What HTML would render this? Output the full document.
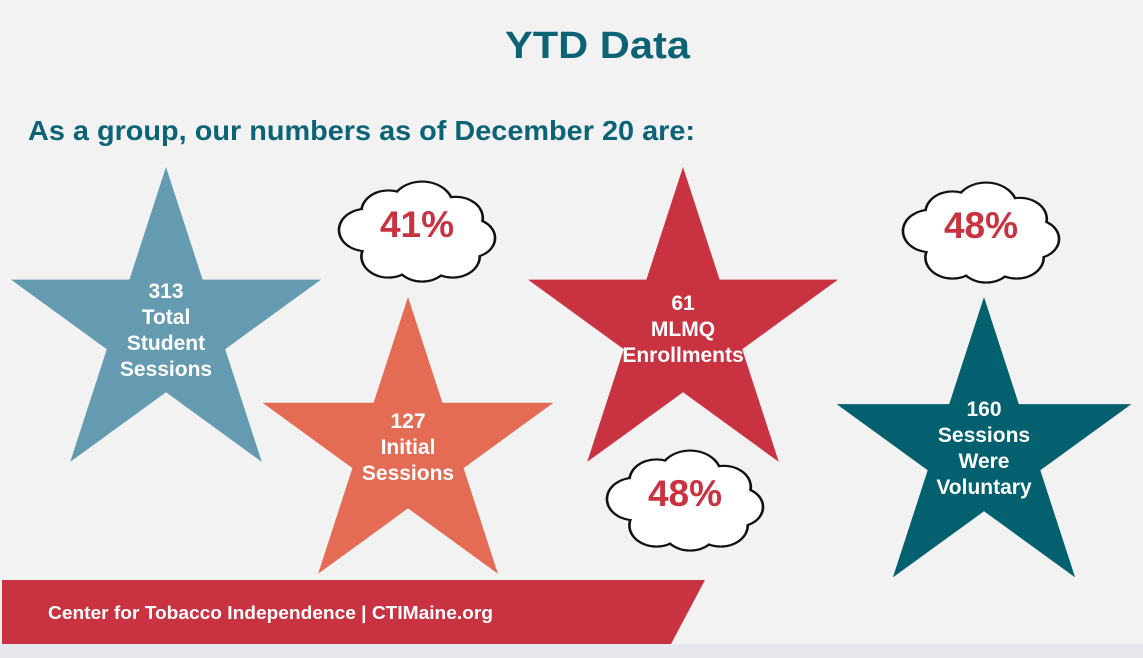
<!DOCTYPE html>
<html><head><meta charset="utf-8"><style>
html,body{margin:0;padding:0;width:1143px;height:658px;overflow:hidden;background:#f2f2f2;font-family:"Liberation Sans",sans-serif}
svg{position:absolute;left:0;top:0}
</style></head><body>
<svg id="s" width="1143" height="658" viewBox="0 0 1143 658">
<rect x="0" y="0" width="1143" height="658" fill="#f2f2f2"/>
<rect x="0" y="644" width="1143" height="14" fill="#e7e8ed"/>
<text x="505" y="58" textLength="185" lengthAdjust="spacingAndGlyphs" font-size="38" font-weight="bold" fill="#0b6375">YTD Data</text>
<text x="28" y="140" textLength="667" lengthAdjust="spacingAndGlyphs" font-size="28" font-weight="bold" fill="#0b6375">As a group, our numbers as of December 20 are:</text>
<g id="stars"></g>
<g id="clouds"></g>
<polygon points="2,580 705,580 671,644 2,644" fill="#c93341"/>
<text x="48" y="619" textLength="445" lengthAdjust="spacingAndGlyphs" font-size="18" font-weight="bold" fill="#fff">Center for Tobacco Independence |  CTIMaine.org</text>
</svg>
<script>
const NS='http://www.w3.org/2000/svg';
const starCx=[166,408,683,984], starCy=[330,450,330,452], starR=[163,153,163,155];
const starColor=['#649bb1','#e46c55','#c93341','#02606f'];
const starLines=[['313','Total','Student','Sessions'],['127','Initial','Sessions'],['61','MLMQ','Enrollments'],['160','Sessions','Were','Voluntary']];
const starTextY=[298,428,310,416];
const g=document.getElementById('stars');
for(let i=0;i<4;i++){
  const pts=[];
  for(let k=0;k<10;k++){const r=k%2?starR[i]*0.382:starR[i];const a=-Math.PI/2+k*Math.PI/5;pts.push((starCx[i]+r*Math.cos(a)).toFixed(1)+','+(starCy[i]+r*Math.sin(a)).toFixed(1));}
  const p=document.createElementNS(NS,'polygon');p.setAttribute('points',pts.join(' '));p.setAttribute('fill',starColor[i]);
  
  
  g.appendChild(p);
  starLines[i].forEach((t,j)=>{const tx=document.createElementNS(NS,'text');tx.setAttribute('x',starCx[i]);tx.setAttribute('y',starTextY[i]+j*26);tx.setAttribute('text-anchor','middle');tx.setAttribute('font-size','21');tx.setAttribute('font-weight','bold');tx.setAttribute('fill','#fff');tx.textContent=t;
  
  
  g.appendChild(tx);});
}
const cloudCx=[417,981,685], cloudCy=[234,235,503], cloudLabel=['41%','48%','48%'];
const bumps=[[-50,-5,26],[-28,-28,26],[5,-35,30],[38,-20,26],[52,5,24],[35,28,26],[5,33,26],[-28,28,26],[0,0,40]];
const cg=document.getElementById('clouds');
for(let i=0;i<3;i++){
  const grp=document.createElementNS(NS,'g');
  
  
  const shape=document.createElementNS(NS,'g');
  shape.setAttribute('transform','translate('+cloudCx[i]+','+cloudCy[i]+') scale(1.02,0.8)');
  [[3,'#111'],[0,'#fff']].forEach(([sw,col])=>{bumps.forEach(b=>{const c=document.createElementNS(NS,'circle');c.setAttribute('cx',b[0]);c.setAttribute('cy',b[1]);c.setAttribute('r',b[2]+(sw?1.8:-0.8));c.setAttribute('fill',col);shape.appendChild(c);});});
  grp.appendChild(shape);
  const t=document.createElementNS(NS,'text');t.setAttribute('x',cloudCx[i]);t.setAttribute('y',cloudCy[i]+3);t.setAttribute('text-anchor','middle');t.setAttribute('font-size','37');t.setAttribute('font-weight','bold');t.setAttribute('fill','#c93341');t.textContent=cloudLabel[i];
  
  
  grp.appendChild(t);cg.appendChild(grp);
}
</script>
</body></html>
